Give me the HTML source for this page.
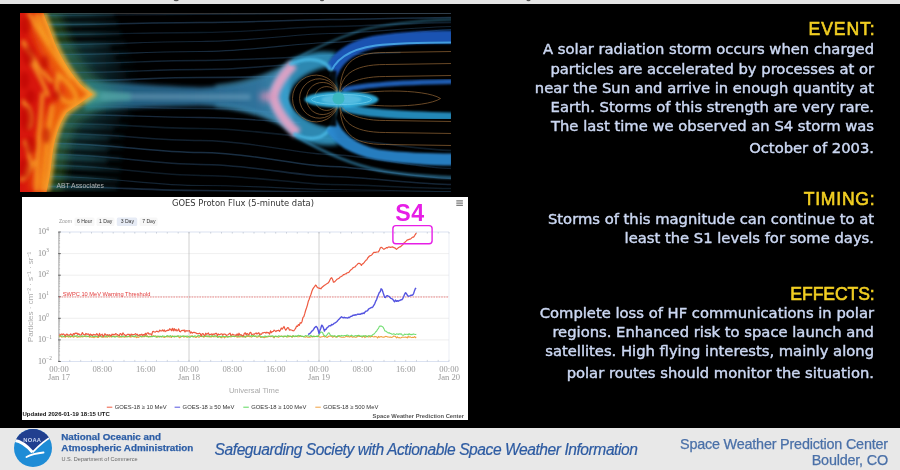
<!DOCTYPE html>
<html><head><meta charset="utf-8">
<style>
html,body{margin:0;padding:0;}
body{width:900px;height:470px;background:#000;position:relative;overflow:hidden;font-family:"Liberation Sans",sans-serif;}
.abs{position:absolute;}
#topstrip{left:0;top:0;width:900px;height:3.5px;background:#e5e5e5;}
#mag{left:19.5px;top:12.5px;width:431px;height:179px;}
#graph{left:22px;top:197px;width:446px;height:223px;}
.t{position:absolute;right:26px;white-space:nowrap;font-family:"DejaVu Sans",sans-serif;font-size:14.75px;color:#cbd7f2;line-height:1;-webkit-text-stroke:0.45px #cbd7f2;}
.h{position:absolute;right:25.3px;white-space:nowrap;font-family:"Liberation Sans",sans-serif;font-size:17.6px;color:#f2cf22;line-height:1;-webkit-text-stroke:0.6px #f2cf22;}
#footer{left:0;top:428px;width:900px;height:42px;background:#e8e8e8;}
.f{position:absolute;white-space:nowrap;line-height:1;}
</style></head><body>
<div id="topstrip" class="abs"></div>
<svg class="abs" style="left:0;top:0" width="900" height="4"><g fill="#555"><ellipse cx="176.2" cy="0.2" rx="2.4" ry="1.1"/><ellipse cx="322" cy="0.2" rx="2" ry="1"/><ellipse cx="528.5" cy="0.2" rx="2" ry="1"/></g></svg>
<svg id="mag" class="abs" viewBox="19.5 12.5 431 179">
<defs>
<filter id="b05" x="-20%" y="-20%" width="140%" height="140%"><feGaussianBlur stdDeviation="0.6"/></filter>
<filter id="b1" x="-20%" y="-20%" width="140%" height="140%"><feGaussianBlur stdDeviation="1"/></filter>
<filter id="b2" x="-30%" y="-30%" width="160%" height="160%"><feGaussianBlur stdDeviation="2"/></filter>
<filter id="b3" x="-30%" y="-30%" width="160%" height="160%"><feGaussianBlur stdDeviation="3"/></filter>
<filter id="b5" x="-50%" y="-50%" width="200%" height="200%"><feGaussianBlur stdDeviation="5"/></filter>
<filter id="b8" x="-50%" y="-50%" width="200%" height="200%"><feGaussianBlur stdDeviation="8"/></filter>
<linearGradient id="sung" x1="19.5" x2="92" y1="0" y2="0" gradientUnits="userSpaceOnUse">
<stop offset="0" stop-color="#dc1a0a"/><stop offset="0.3" stop-color="#e83a0c"/><stop offset="0.55" stop-color="#f06810"/><stop offset="0.8" stop-color="#f49020"/><stop offset="1" stop-color="#f0a838"/></linearGradient>
<linearGradient id="haze" x1="40" x2="140" y1="0" y2="0" gradientUnits="userSpaceOnUse">
<stop offset="0" stop-color="#3a5010" stop-opacity="0.9"/><stop offset="0.35" stop-color="#1a3418" stop-opacity="0.6"/><stop offset="0.7" stop-color="#0a1a20" stop-opacity="0.3"/><stop offset="1" stop-color="#000" stop-opacity="0"/></linearGradient>
<linearGradient id="band" x1="80" x2="290" y1="0" y2="0" gradientUnits="userSpaceOnUse">
<stop offset="0" stop-color="#2f8a88"/><stop offset="0.25" stop-color="#2c7098"/><stop offset="0.5" stop-color="#2e74a0"/><stop offset="0.85" stop-color="#3a88b8"/><stop offset="1" stop-color="#50a8d0"/></linearGradient>
<clipPath id="sunclip"><path d="M19.5 12.5 L43 12.5 C46 22 50 30 54 42 C60 56 68 70 80 84 L92 94 C84 100 74 106 66 112 C58 124 53 140 51 160 C50 172 48 182 46 191.5 L19.5 191.5 Z"/></clipPath>
<linearGradient id="gfade" x1="45" x2="140" y1="0" y2="0" gradientUnits="userSpaceOnUse"><stop offset="0" stop-color="#3a9ca4" stop-opacity="0.75"/><stop offset="0.45" stop-color="#3090a0" stop-opacity="0.55"/><stop offset="1" stop-color="#2a7090" stop-opacity="0"/></linearGradient>
</defs>
<rect x="19.5" y="12.5" width="431" height="179" fill="#000"/>
<line x1="19.5" x2="450.5" y1="13" y2="13" stroke="#333" stroke-width="1"/>
<path d="M43 12.5 C46 22 50 30 54 42 C60 56 68 70 80 84 L92 94 C84 100 74 106 66 112 C58 124 53 140 51 160 C50 172 48 182 46 191.5" stroke="#2a4a14" stroke-width="30" fill="none" opacity="0.8" filter="url(#b5)"/>
<g fill="none" filter="url(#b05)"><path d="M43.9 15 C103.9 15 150 14 200 14 S 300 13 330 13 S 420 13 452 13" stroke="#30587e" stroke-opacity="0.32" stroke-width="1.24"/><path d="M47.3 24 C107.3 24 150 22 200 22 S 300 19 330 19 S 420 17 452 17" stroke="#30587e" stroke-opacity="0.50" stroke-width="1.45"/><path d="M51.1 34 C111.1 34 150 32 200 32 S 300 26 330 26 S 420 22 452 22" stroke="#30587e" stroke-opacity="0.32" stroke-width="1.36"/><path d="M55.0 44 C115.0 44 150 41 200 41 S 300 33 330 33 S 420 26 452 26" stroke="#30587e" stroke-opacity="0.42" stroke-width="1.20"/><path d="M59.6 54 C119.6 54 150 51 200 51 S 300 42 330 42 S 420 29 452 29" stroke="#30587e" stroke-opacity="0.48" stroke-width="1.17"/><path d="M64.8 63 C124.8 63 150 60 200 60 S 370 52 400 52" stroke="#30587e" stroke-opacity="0.40" stroke-width="1.41"/><path d="M70.3 72 C130.3 72 150 69 200 69 S 270 64 300 64" stroke="#30587e" stroke-opacity="0.41" stroke-width="1.45"/><path d="M76.3 80 C136.3 80 150 77 200 77 S 255 76 285 76" stroke="#30587e" stroke-opacity="0.48" stroke-width="1.67"/><path d="M72.8 106 C132.8 106 150 108 200 108 S 255 112 285 112" stroke="#30587e" stroke-opacity="0.37" stroke-width="1.49"/><path d="M64.0 114 C124.0 114 150 117 200 117 S 270 122 300 122" stroke="#30587e" stroke-opacity="0.47" stroke-width="1.28"/><path d="M58.4 123 C118.4 123 150 128 200 128 S 300 138 330 138 S 420 150 452 150" stroke="#30587e" stroke-opacity="0.30" stroke-width="1.68"/><path d="M53.7 133 C113.7 133 150 140 200 140 S 300 154 330 154 S 420 168 452 168" stroke="#30587e" stroke-opacity="0.37" stroke-width="1.29"/><path d="M52.7 143 C112.7 143 150 152 200 152 S 300 166 330 166 S 420 178 452 178" stroke="#30587e" stroke-opacity="0.52" stroke-width="1.45"/><path d="M51.6 154 C111.6 154 150 164 200 164 S 300 176 330 176 S 420 184 452 184" stroke="#30587e" stroke-opacity="0.42" stroke-width="1.56"/><path d="M50.5 165 C110.5 165 150 175 200 175 S 300 184 330 184 S 420 188 452 188" stroke="#30587e" stroke-opacity="0.31" stroke-width="1.52"/><path d="M48.9 176 C108.9 176 150 185 200 185 S 300 189 330 189 S 420 191 452 191" stroke="#30587e" stroke-opacity="0.39" stroke-width="1.15"/><path d="M47.0 186 C107.0 186 150 190 200 190 S 300 192 330 192 S 420 192 452 192" stroke="#30587e" stroke-opacity="0.47" stroke-width="1.66"/></g>
<g fill="none" filter="url(#b2)"><path d="M41.9 15 L113.9 14.6" stroke="url(#gfade)" stroke-width="3"/><path d="M45.3 24 L117.3 23.1" stroke="url(#gfade)" stroke-width="3"/><path d="M49.1 34 L121.1 33.1" stroke="url(#gfade)" stroke-width="3"/><path d="M53.0 44 L125.0 42.6" stroke="url(#gfade)" stroke-width="3"/><path d="M53.0 48 L110.0 47.1" stroke="url(#gfade)" stroke-width="2.5"/><path d="M57.6 54 L129.6 52.6" stroke="url(#gfade)" stroke-width="3"/><path d="M57.6 58 L114.6 57.1" stroke="url(#gfade)" stroke-width="2.5"/><path d="M62.8 63 L134.8 61.6" stroke="url(#gfade)" stroke-width="3"/><path d="M62.8 67 L119.8 66.1" stroke="url(#gfade)" stroke-width="2.5"/><path d="M68.3 72 L140.3 70.7" stroke="url(#gfade)" stroke-width="3"/><path d="M68.3 76 L125.3 75.1" stroke="url(#gfade)" stroke-width="2.5"/><path d="M74.3 80 L146.3 78.7" stroke="url(#gfade)" stroke-width="3"/><path d="M74.3 84 L131.3 83.1" stroke="url(#gfade)" stroke-width="2.5"/><path d="M70.8 106 L142.8 106.9" stroke="url(#gfade)" stroke-width="3"/><path d="M70.8 110 L127.8 110.6" stroke="url(#gfade)" stroke-width="2.5"/><path d="M62.0 114 L134.0 115.3" stroke="url(#gfade)" stroke-width="3"/><path d="M62.0 118 L119.0 118.9" stroke="url(#gfade)" stroke-width="2.5"/><path d="M56.4 123 L128.4 125.2" stroke="url(#gfade)" stroke-width="3"/><path d="M56.4 127 L113.4 128.5" stroke="url(#gfade)" stroke-width="2.5"/><path d="M51.7 133 L123.7 136.2" stroke="url(#gfade)" stroke-width="3"/><path d="M51.7 137 L108.7 139.1" stroke="url(#gfade)" stroke-width="2.5"/><path d="M50.7 143 L122.7 147.1" stroke="url(#gfade)" stroke-width="3"/><path d="M50.7 147 L107.7 149.7" stroke="url(#gfade)" stroke-width="2.5"/><path d="M49.6 154 L121.6 158.5" stroke="url(#gfade)" stroke-width="3"/><path d="M49.6 158 L106.6 161.0" stroke="url(#gfade)" stroke-width="2.5"/><path d="M48.5 165 L120.5 169.5" stroke="url(#gfade)" stroke-width="3"/><path d="M46.9 176 L118.9 180.1" stroke="url(#gfade)" stroke-width="3"/><path d="M45.0 186 L117.0 187.8" stroke="url(#gfade)" stroke-width="3"/></g>
<path d="M84 80 C120 82 150 85 200 87 C225 86 245 82 262 76 C272 72 280 68 288 64 L292 130 C282 124 272 120 262 116 C245 110 225 106 200 105 C150 106 120 108 84 110 Z" fill="url(#band)" opacity="0.85" filter="url(#b2)"/>
<path d="M100 93 C150 93 200 94 250 94 L250 99 C200 99 150 99 100 99 Z" fill="#8ab8d0" opacity="0.45" filter="url(#b2)"/>
<path d="M84 88 C100 90 115 92 130 93 L130 100 C115 100 100 102 84 104 Z" fill="#4aa8a0" opacity="0.6" filter="url(#b2)"/>
<path d="M19.5 12.5 L43 12.5 C46 22 50 30 54 42 C60 56 68 70 80 84 L92 94 C84 100 74 106 66 112 C58 124 53 140 51 160 C50 172 48 182 46 191.5 L19.5 191.5 Z" fill="#d8180a" filter="url(#b05)"/>
<path d="M43 12.5 C46 22 50 30 54 42 C60 56 68 70 80 84 L92 94 C84 100 74 106 66 112 C58 124 53 140 51 160 C50 172 48 182 46 191.5" stroke="#f06a10" stroke-width="34" fill="none" opacity="0.85" filter="url(#b5)" clip-path="url(#sunclip)"/>
<g fill="none" stroke="#f8a428" stroke-width="4" opacity="0.85" filter="url(#b2)" clip-path="url(#sunclip)"><path d="M28 12.5 C38 30 52 52 72 78"/><path d="M22 40 C30 55 40 70 52 82"/><path d="M42 92 C40 120 37 150 36 191.5"/><path d="M52 104 C48 130 44 160 42 191.5"/><path d="M58 74 C68 82 76 90 76 100 C66 106 58 98 56 86 Z"/><path d="M22 100 C30 108 32 118 28 128"/><path d="M24 140 C30 150 30 162 26 172"/><path d="M36 12.5 C40 24 44 34 50 44"/><path d="M30 60 C36 70 44 84 48 96"/><path d="M20 180 C26 176 30 170 34 160"/></g>
<g filter="url(#b2)" clip-path="url(#sunclip)"><ellipse cx="25" cy="25" rx="5" ry="9" fill="#b80806" opacity="0.55"/><ellipse cx="28" cy="55" rx="6" ry="10" fill="#b80806" opacity="0.55"/><ellipse cx="24" cy="80" rx="5" ry="9" fill="#b80806" opacity="0.55"/><ellipse cx="30" cy="96" rx="5" ry="7" fill="#b80806" opacity="0.55"/><ellipse cx="26" cy="118" rx="6" ry="12" fill="#b80806" opacity="0.55"/><ellipse cx="30" cy="145" rx="5" ry="9" fill="#b80806" opacity="0.55"/><ellipse cx="24" cy="168" rx="6" ry="10" fill="#b80806" opacity="0.55"/><ellipse cx="44" cy="62" rx="4" ry="7" fill="#b80806" opacity="0.55"/><ellipse cx="46" cy="135" rx="4" ry="8" fill="#b80806" opacity="0.55"/><ellipse cx="56" cy="95" rx="4" ry="5" fill="#b80806" opacity="0.55"/></g>
<path d="M43 12.5 C46 22 50 30 54 42 C60 56 68 70 80 84 L92 94 C84 100 74 106 66 112 C58 124 53 140 51 160 C50 172 48 182 46 191.5" stroke="#f8b030" stroke-width="6" fill="none" opacity="0.85" filter="url(#b2)"/>
<path d="M290 60 C280 72 270 86 268 96 C270 108 280 122 294 136 C310 144 324 146 338 144 L334 128 C314 126 294 114 288 98 C290 82 306 70 330 66 L336 52 C320 50 304 52 290 60 Z" fill="#36a0d0" opacity="0.85" filter="url(#b2)"/>
<path d="M215 86 C245 83 265 76 280 68 C286 64 290 62 296 60" stroke="#50b0d8" stroke-width="3" fill="none" opacity="0.55" filter="url(#b2)"/>
<path d="M215 105 C245 108 265 114 280 122 C288 128 294 132 300 136" stroke="#50b0d8" stroke-width="3" fill="none" opacity="0.55" filter="url(#b2)"/>
<path d="M293 64 C283 74 275 86 273 96 C275 108 284 121 297 133" stroke="#eaa2c4" stroke-width="10" fill="none" opacity="0.9" filter="url(#b2)"/>
<path d="M266 90 C270 92 272 94 274 96 C272 98 270 100 266 102 C262 100 260 98 258 96 C260 94 262 92 266 90 Z" fill="#d890b8" opacity="0.8" filter="url(#b3)"/>
<path d="M326 66 C332 52 348 40 375 35 C400 31 430 30 452 30 L452 43 C430 43 400 43 378 47 C352 52 340 64 335 80 Z" fill="#1d58bc" opacity="0.95" filter="url(#b1)"/>
<path d="M329 76 C333 60 348 49 375 45 C400 42 430 42 452 42" stroke="#48a8e8" stroke-width="1.8" fill="none" opacity="0.9" filter="url(#b05)"/>
<path d="M289 64 C302 58 318 56 328 66 C332 72 334 80 336 92" stroke="#48b8e4" stroke-width="3.5" fill="none" opacity="0.85" filter="url(#b1)"/>
<path d="M293 133 C306 140 320 140 328 130 C332 124 334 116 336 104" stroke="#48b8e4" stroke-width="3.5" fill="none" opacity="0.85" filter="url(#b1)"/>
<path d="M292 60 C310 50 330 40 360 30 C390 22 420 20 452 19" stroke="#3a90b8" stroke-width="2" fill="none" opacity="0.6" filter="url(#b1)"/>
<path d="M296 136 C320 150 350 164 380 170 C400 174 430 176 452 177" stroke="#3a98c8" stroke-width="3" fill="none" opacity="0.6" filter="url(#b1)"/>
<path d="M326 130 C334 144 350 154 375 159 C400 163 430 165 452 165 L452 153 C430 153 400 152 378 149 C356 144 342 134 335 118 Z" fill="#2a88d0" opacity="0.92" filter="url(#b1)"/>
<path d="M342 90 C360 84 400 82 452 81" stroke="#2466c4" stroke-width="5" fill="none" opacity="0.9" filter="url(#b1)"/>
<path d="M342 106 C360 113 400 115 452 116" stroke="#2aa0d8" stroke-width="8" fill="none" opacity="0.85" filter="url(#b1)"/>
<path d="M336 70 C310 70 290 84 289 98 C290 112 310 126 336 126 Z" fill="#000" opacity="0.92" filter="url(#b1)"/>
<g fill="none" stroke="#b07a40" stroke-width="0.85" opacity="0.7"><path d="M337 89 A23.4 23.4 0 1 0 337 107"/><path d="M337 90.5 A19.7 19.7 0 1 0 337 105.5"/><path d="M337 92 A16.1 16.1 0 1 0 337 104"/><path d="M337 93.5 A11.9 11.9 0 1 0 337 102.5"/><path d="M339 95 C340 64 350 52 385 52 L452 51"/><path d="M339 101 C340 132 350 144 385 144 L452 145"/><path d="M339 95 C340 76 350 64 385 64 L452 63"/><path d="M339 101 C340 120 350 132 385 132 L452 133"/><path d="M339 95 C340 88 350 76 385 76 L452 75"/><path d="M339 101 C340 108 350 120 385 120 L452 121"/><path d="M339 98 C360 88 425 88 440 98 C425 108 360 108 339 98"/></g>
<ellipse cx="341" cy="99" rx="37" ry="8" fill="#30b0e0" opacity="0.95" filter="url(#b1)"/>
<ellipse cx="341" cy="99" rx="20" ry="5" fill="#78d0ec" opacity="0.5" filter="url(#b1)"/>
<ellipse cx="341" cy="99" rx="30" ry="5" fill="none" stroke="#80d8f0" stroke-width="1" opacity="0.6" filter="url(#b05)"/>
<circle cx="338" cy="98" r="6" fill="#3ab8c0" filter="url(#b05)"/>
<text x="56" y="187.2" font-family="Liberation Sans, sans-serif" font-size="6.8" fill="#b0b0b0">ABT Associates</text>
</svg>
<svg id="graph" class="abs" viewBox="22 197 446 223">
<rect x="22" y="197" width="446" height="223" fill="#fff"/>
<text x="243" y="205.6" text-anchor="middle" font-family="DejaVu Sans, sans-serif" font-size="8.4" fill="#333">GOES Proton Flux (5-minute data)</text>
<line x1="456.3" x2="462.9" y1="200.9" y2="200.9" stroke="#666" stroke-width="1.1"/>
<line x1="456.3" x2="462.9" y1="203.1" y2="203.1" stroke="#666" stroke-width="1.1"/>
<line x1="456.3" x2="462.9" y1="205.3" y2="205.3" stroke="#666" stroke-width="1.1"/>
<g font-family="Liberation Sans, sans-serif" font-size="5.1">
<rect x="74.5" y="217.4" width="20" height="8.6" rx="1.5" fill="#f7f7f7"/>
<rect x="96.5" y="217.4" width="18" height="8.6" rx="1.5" fill="#f7f7f7"/>
<rect x="116.8" y="217.4" width="20.4" height="8.6" rx="1.5" fill="#e6ebf5"/>
<rect x="139.6" y="217.4" width="18" height="8.6" rx="1.5" fill="#f7f7f7"/>
<text x="58.9" y="223.1" fill="#999">Zoom</text>
<text x="76.9" y="223.1" fill="#333">6 Hour</text>
<text x="99" y="223.1" fill="#333">1 Day</text>
<text x="120.7" y="223.1" fill="#333">3 Day</text>
<text x="142.2" y="223.1" fill="#333">7 Day</text>
</g>
<line x1="59" x2="449" y1="339.9" y2="339.9" stroke="#ebebeb" stroke-width="0.8"/>
<line x1="59" x2="449" y1="318.3" y2="318.3" stroke="#ebebeb" stroke-width="0.8"/>
<line x1="59" x2="449" y1="296.7" y2="296.7" stroke="#ebebeb" stroke-width="0.8"/>
<line x1="59" x2="449" y1="275.2" y2="275.2" stroke="#ebebeb" stroke-width="0.8"/>
<line x1="59" x2="449" y1="253.6" y2="253.6" stroke="#ebebeb" stroke-width="0.8"/>
<line x1="59" x2="449" y1="232" y2="232" stroke="#ccd6eb" stroke-width="0.7"/>
<line x1="59" x2="449" y1="361.5" y2="361.5" stroke="#ccd6eb" stroke-width="0.7"/>
<path d="M59.0 232v1.6M59.0 361.5v-1.6M69.8 232v1.6M69.8 361.5v-1.6M80.7 232v1.6M80.7 361.5v-1.6M91.5 232v1.6M91.5 361.5v-1.6M102.3 232v1.6M102.3 361.5v-1.6M113.2 232v1.6M113.2 361.5v-1.6M124.0 232v1.6M124.0 361.5v-1.6M134.8 232v1.6M134.8 361.5v-1.6M145.7 232v1.6M145.7 361.5v-1.6M156.5 232v1.6M156.5 361.5v-1.6M167.3 232v1.6M167.3 361.5v-1.6M178.2 232v1.6M178.2 361.5v-1.6M189.0 232v1.6M189.0 361.5v-1.6M199.8 232v1.6M199.8 361.5v-1.6M210.7 232v1.6M210.7 361.5v-1.6M221.5 232v1.6M221.5 361.5v-1.6M232.3 232v1.6M232.3 361.5v-1.6M243.2 232v1.6M243.2 361.5v-1.6M254.0 232v1.6M254.0 361.5v-1.6M264.8 232v1.6M264.8 361.5v-1.6M275.7 232v1.6M275.7 361.5v-1.6M286.5 232v1.6M286.5 361.5v-1.6M297.3 232v1.6M297.3 361.5v-1.6M308.2 232v1.6M308.2 361.5v-1.6M319.0 232v1.6M319.0 361.5v-1.6M329.8 232v1.6M329.8 361.5v-1.6M340.7 232v1.6M340.7 361.5v-1.6M351.5 232v1.6M351.5 361.5v-1.6M362.3 232v1.6M362.3 361.5v-1.6M373.2 232v1.6M373.2 361.5v-1.6M384.0 232v1.6M384.0 361.5v-1.6M394.8 232v1.6M394.8 361.5v-1.6M405.7 232v1.6M405.7 361.5v-1.6M416.5 232v1.6M416.5 361.5v-1.6M427.3 232v1.6M427.3 361.5v-1.6M438.2 232v1.6M438.2 361.5v-1.6M449.0 232v1.6M449.0 361.5v-1.6" stroke="#b0b8c8" stroke-width="0.6"/>
<line x1="189" x2="189" y1="232" y2="361.5" stroke="#a8a8a8" stroke-width="0.55"/>
<line x1="319" x2="319" y1="232" y2="361.5" stroke="#a8a8a8" stroke-width="0.55"/>
<line x1="449" x2="449" y1="232" y2="361.5" stroke="#dde3ef" stroke-width="0.6"/>
<line x1="58.9" x2="58.9" y1="232" y2="361.5" stroke="#8a8a8a" stroke-width="0.8"/>
<path d="M58.9 355.0h1.2M58.9 351.2h1.2M58.9 348.5h1.2M58.9 346.4h1.2M58.9 344.7h1.2M58.9 343.2h1.2M58.9 342.0h1.2M58.9 340.9h1.2M58.9 333.4h1.2M58.9 329.6h1.2M58.9 326.9h1.2M58.9 324.8h1.2M58.9 323.1h1.2M58.9 321.7h1.2M58.9 320.4h1.2M58.9 319.3h1.2M58.9 311.8h1.2M58.9 308.0h1.2M58.9 305.3h1.2M58.9 303.2h1.2M58.9 301.5h1.2M58.9 300.1h1.2M58.9 298.8h1.2M58.9 297.7h1.2M58.9 290.2h1.2M58.9 286.4h1.2M58.9 283.7h1.2M58.9 281.7h1.2M58.9 279.9h1.2M58.9 278.5h1.2M58.9 277.3h1.2M58.9 276.1h1.2M58.9 268.7h1.2M58.9 264.9h1.2M58.9 262.2h1.2M58.9 260.1h1.2M58.9 258.4h1.2M58.9 256.9h1.2M58.9 255.7h1.2M58.9 254.6h1.2M58.9 247.1h1.2M58.9 243.3h1.2M58.9 240.6h1.2M58.9 238.5h1.2M58.9 236.8h1.2M58.9 235.3h1.2M58.9 234.1h1.2M58.9 233.0h1.2" stroke="#999" stroke-width="0.5"/>
<line x1="58.2" x2="60.8" y1="361.5" y2="361.5" stroke="#555" stroke-width="0.9"/>
<line x1="58.2" x2="60.8" y1="339.9" y2="339.9" stroke="#555" stroke-width="0.9"/>
<line x1="58.2" x2="60.8" y1="318.3" y2="318.3" stroke="#555" stroke-width="0.9"/>
<line x1="58.2" x2="60.8" y1="296.7" y2="296.7" stroke="#555" stroke-width="0.9"/>
<line x1="58.2" x2="60.8" y1="275.2" y2="275.2" stroke="#555" stroke-width="0.9"/>
<line x1="58.2" x2="60.8" y1="253.6" y2="253.6" stroke="#555" stroke-width="0.9"/>
<line x1="58.2" x2="60.8" y1="232.0" y2="232.0" stroke="#555" stroke-width="0.9"/>
<g font-family="Liberation Serif, serif" fill="#888">
<text x="46.1" y="363.7" font-size="8" text-anchor="end">10</text><text x="46.3" y="360.1" font-size="5.2">−2</text>
<text x="46.1" y="342.1" font-size="8" text-anchor="end">10</text><text x="46.3" y="338.5" font-size="5.2">−1</text>
<text x="46.1" y="320.5" font-size="8" text-anchor="end">10</text><text x="46.3" y="316.9" font-size="5.2">0</text>
<text x="46.1" y="298.9" font-size="8" text-anchor="end">10</text><text x="46.3" y="295.3" font-size="5.2">1</text>
<text x="46.1" y="277.4" font-size="8" text-anchor="end">10</text><text x="46.3" y="273.8" font-size="5.2">2</text>
<text x="46.1" y="255.8" font-size="8" text-anchor="end">10</text><text x="46.3" y="252.2" font-size="5.2">3</text>
<text x="46.1" y="234.2" font-size="8" text-anchor="end">10</text><text x="46.3" y="230.6" font-size="5.2">4</text>
</g>
<text transform="translate(32.8 297) rotate(-90)" text-anchor="middle" font-family="Liberation Sans, sans-serif" font-size="8" fill="#aaa">Particles · cm⁻² · s⁻¹ · sr⁻¹</text>
<g font-family="Liberation Serif, serif" font-size="8.6" fill="#999" text-anchor="middle">
<text x="59.0" y="372.4">00:00</text>
<text x="102.3" y="372.4">08:00</text>
<text x="145.7" y="372.4">16:00</text>
<text x="189.0" y="372.4">00:00</text>
<text x="232.3" y="372.4">08:00</text>
<text x="275.7" y="372.4">16:00</text>
<text x="319.0" y="372.4">00:00</text>
<text x="362.3" y="372.4">08:00</text>
<text x="405.7" y="372.4">16:00</text>
<text x="449.0" y="372.4">00:00</text>
<text x="59" y="380.4">Jan 17</text>
<text x="189" y="380.4">Jan 18</text>
<text x="319" y="380.4">Jan 19</text>
<text x="449" y="380.4">Jan 20</text>
</g>
<text x="254" y="392.6" text-anchor="middle" font-family="Liberation Sans, sans-serif" font-size="7.6" fill="#aaa">Universal Time</text>
<line x1="59" x2="449" y1="297" y2="297" stroke="#e85a5a" stroke-width="0.7" stroke-dasharray="1.6 1"/>
<text x="62.8" y="295.6" font-family="Liberation Sans, sans-serif" font-size="5.7" fill="#e23a3a">SWPC 10 MeV Warning Threshold</text>
<g fill="none" stroke-width="1" stroke-linejoin="round">
<path d="M59.0 336.9 L59.9 336.5 L60.8 335.7 L61.7 337.1 L62.6 337.0 L63.5 336.8 L64.4 336.7 L65.3 337.2 L66.2 336.5 L67.1 336.4 L68.0 336.6 L68.9 337.2 L69.8 336.1 L70.7 337.2 L71.6 336.4 L72.5 336.2 L73.4 337.3 L74.3 336.7 L75.2 336.1 L76.1 336.5 L77.0 337.1 L77.9 337.2 L78.8 336.5 L79.7 336.9 L80.6 337.0 L81.5 336.4 L82.4 336.9 L83.3 336.7 L84.2 336.5 L85.1 336.5 L86.0 336.7 L86.9 336.7 L87.8 336.4 L88.7 336.5 L89.6 337.2 L90.5 336.8 L91.4 337.1 L92.3 337.2 L93.2 337.0 L94.1 337.7 L95.0 336.3 L95.9 337.1 L96.8 336.6 L97.7 337.5 L98.6 337.5 L99.5 335.8 L100.4 336.3 L101.3 337.0 L102.2 337.1 L103.1 337.0 L104.0 336.7 L104.9 336.9 L105.8 337.0 L106.7 336.7 L107.6 337.2 L108.5 335.7 L109.4 337.0 L110.3 336.2 L111.2 337.1 L112.1 336.6 L113.0 336.3 L113.9 336.9 L114.8 336.3 L115.7 336.3 L116.6 336.0 L117.5 336.7 L118.4 336.9 L119.3 337.2 L120.2 336.6 L121.1 337.2 L122.0 336.7 L122.9 336.7 L123.8 337.0 L124.7 337.2 L125.6 336.5 L126.5 336.6 L127.4 336.6 L128.3 336.7 L129.2 336.3 L130.1 337.2 L131.0 336.5 L131.9 336.9 L132.8 336.3 L133.7 336.9 L134.6 336.9 L135.5 336.5 L136.4 337.6 L137.3 336.9 L138.2 337.5 L139.1 337.1 L140.0 336.4 L140.9 336.5 L141.8 336.9 L142.7 336.7 L143.6 336.7 L144.5 336.6 L145.4 335.9 L146.3 336.6 L147.2 335.7 L148.1 336.9 L149.0 336.4 L149.9 336.4 L150.8 336.6 L151.7 336.8 L152.6 336.1 L153.5 335.9 L154.4 336.2 L155.3 335.8 L156.2 336.3 L157.1 337.4 L158.0 336.2 L158.9 337.0 L159.8 336.1 L160.7 336.8 L161.6 336.6 L162.5 336.7 L163.4 337.0 L164.3 337.5 L165.2 336.8 L166.1 336.8 L167.0 336.3 L167.9 337.0 L168.8 336.6 L169.7 337.1 L170.6 336.7 L171.5 337.5 L172.4 335.8 L173.3 336.6 L174.2 337.1 L175.1 336.5 L176.0 336.3 L176.9 336.6 L177.8 336.1 L178.7 336.8 L179.6 337.8 L180.5 337.2 L181.4 336.2 L182.3 336.3 L183.2 336.5 L184.1 337.2 L185.0 336.3 L185.9 336.4 L186.8 337.1 L187.7 337.1 L188.6 336.5 L189.5 336.2 L190.4 336.0 L191.3 336.4 L192.2 335.7 L193.1 337.0 L194.0 336.4 L194.9 336.9 L195.8 337.5 L196.7 337.2 L197.6 336.2 L198.5 337.1 L199.4 337.2 L200.3 336.4 L201.2 336.3 L202.1 336.7 L203.0 336.0 L203.9 337.4 L204.8 335.6 L205.7 336.2 L206.6 336.6 L207.5 336.6 L208.4 336.8 L209.3 336.8 L210.2 336.6 L211.1 337.2 L212.0 335.7 L212.9 336.7 L213.8 336.4 L214.7 336.8 L215.6 336.8 L216.5 336.3 L217.4 336.4 L218.3 337.1 L219.2 336.9 L220.1 336.4 L221.0 337.6 L221.9 337.7 L222.8 336.0 L223.7 336.8 L224.6 337.8 L225.5 337.1 L226.4 336.8 L227.3 336.6 L228.2 336.5 L229.1 336.6 L230.0 336.5 L230.9 337.0 L231.8 336.5 L232.7 336.5 L233.6 336.2 L234.5 336.7 L235.4 336.3 L236.3 336.6 L237.2 337.2 L238.1 336.9 L239.0 336.9 L239.9 336.9 L240.8 336.7 L241.7 336.6 L242.6 336.6 L243.5 337.0 L244.4 336.2 L245.3 337.3 L246.2 336.7 L247.1 336.4 L248.0 336.5 L248.9 336.4 L249.8 336.8 L250.7 336.4 L251.6 337.2 L252.5 336.3 L253.4 335.7 L254.3 336.4 L255.2 335.8 L256.1 336.7 L257.0 337.2 L257.9 337.0 L258.8 336.1 L259.7 336.4 L260.6 337.5 L261.5 336.8 L262.4 336.7 L263.3 337.2 L264.2 337.8 L265.1 337.3 L266.0 336.8 L266.9 336.9 L267.8 337.0 L268.7 336.4 L269.6 336.2 L270.5 336.7 L271.4 336.3 L272.3 336.7 L273.2 336.7 L274.1 337.8 L275.0 336.3 L275.9 336.6 L276.8 336.6 L277.7 336.9 L278.6 337.2 L279.5 336.5 L280.4 336.3 L281.3 336.0 L282.2 336.3 L283.1 336.9 L284.0 336.7 L284.9 336.2 L285.8 336.5 L286.7 336.7 L287.6 336.9 L288.5 336.4 L289.4 336.6 L290.3 335.9 L291.2 336.2 L292.1 337.4 L293.0 335.7 L293.9 336.5 L294.8 336.8 L295.7 336.5 L296.6 336.3 L297.5 336.7 L298.4 336.7 L299.3 336.7 L300.2 335.9 L301.1 336.6 L302.0 336.3 L302.9 336.5 L303.8 336.8 L304.7 337.0 L305.6 337.1 L306.5 336.5 L307.4 337.1 L308.3 337.2 L309.2 337.2 L310.1 337.3 L311.0 336.6 L311.9 336.6 L312.8 337.1 L313.7 336.1 L314.6 336.8 L315.5 336.5 L316.4 336.5 L317.3 335.9 L318.2 336.3 L319.1 336.7 L320.0 337.1 L320.9 337.1 L321.8 336.7 L322.7 336.6 L323.6 336.3 L324.5 336.9 L325.4 336.6 L326.3 337.0 L327.2 337.5 L328.1 336.7 L329.0 336.0 L329.9 336.3 L330.8 336.0 L331.7 336.2 L332.6 337.3 L333.5 336.8 L334.4 336.0 L335.3 337.0 L336.2 337.3 L337.1 336.5 L338.0 336.4 L338.9 336.5 L339.8 336.8 L340.7 337.0 L341.6 337.2 L342.5 337.2 L343.4 337.2 L344.3 337.3 L345.2 337.0 L346.1 336.0 L347.0 336.6 L347.9 336.8 L348.8 336.5 L349.7 337.1 L350.6 336.5 L351.5 336.3 L352.4 337.3 L353.3 337.0 L354.2 336.8 L355.1 337.1 L356.0 337.2 L356.9 336.9 L357.8 335.6 L358.7 336.4 L359.6 336.5 L360.5 336.3 L361.4 336.8 L362.3 337.2 L363.2 336.5 L364.1 336.2 L365.0 337.6 L365.9 336.5 L366.8 336.1 L367.7 336.8 L368.6 336.9 L369.5 336.4 L370.4 337.1 L371.3 336.5 L372.2 336.3 L373.1 336.8 L374.0 337.0 L374.9 336.4 L375.8 336.8 L376.7 336.7 L377.6 338.0 L378.5 336.4 L379.4 337.3 L380.3 336.7 L381.2 336.6 L382.1 337.0 L383.0 337.1 L383.9 337.3 L384.8 336.8 L385.7 336.4 L386.6 336.5 L387.5 336.9 L388.4 337.0 L389.3 337.3 L390.2 336.9 L391.1 337.2 L392.0 337.4 L392.9 336.8 L393.8 336.0 L394.7 336.2 L395.6 336.6 L396.5 337.9 L397.4 336.8 L398.3 337.8 L399.2 337.5 L400.1 338.0 L401.0 337.7 L401.9 337.2 L402.8 337.1 L403.7 337.2 L404.6 337.3 L405.5 337.0 L406.4 337.2 L407.3 337.9 L408.2 336.4 L409.1 337.3 L410.0 336.8 L410.9 337.3 L411.8 337.6 L412.7 337.2 L413.6 337.5 L414.5 336.5 L415.4 337.7 L416.3 336.9" stroke="#f0a040" stroke-width="1.1"/>
<path d="M59.0 336.3 L59.9 336.0 L60.8 336.0 L61.7 336.3 L62.6 335.8 L63.5 336.6 L64.4 336.3 L65.3 336.4 L66.2 336.2 L67.1 336.0 L68.0 335.9 L68.9 336.2 L69.8 336.0 L70.7 336.4 L71.6 336.3 L72.5 335.7 L73.4 336.3 L74.3 335.7 L75.2 336.0 L76.1 336.2 L77.0 335.4 L77.9 336.3 L78.8 336.4 L79.7 336.2 L80.6 336.1 L81.5 336.1 L82.4 335.9 L83.3 336.2 L84.2 336.0 L85.1 336.3 L86.0 335.7 L86.9 336.4 L87.8 336.4 L88.7 336.2 L89.6 336.1 L90.5 336.5 L91.4 335.5 L92.3 336.5 L93.2 336.4 L94.1 336.4 L95.0 336.5 L95.9 336.0 L96.8 336.2 L97.7 336.6 L98.6 336.5 L99.5 336.4 L100.4 335.6 L101.3 336.5 L102.2 336.8 L103.1 336.7 L104.0 336.4 L104.9 335.6 L105.8 336.7 L106.7 336.2 L107.6 335.1 L108.5 336.5 L109.4 335.6 L110.3 335.7 L111.2 336.0 L112.1 336.9 L113.0 336.1 L113.9 336.4 L114.8 337.1 L115.7 337.0 L116.6 336.2 L117.5 336.2 L118.4 335.7 L119.3 336.0 L120.2 336.5 L121.1 336.5 L122.0 336.3 L122.9 336.7 L123.8 335.9 L124.7 336.2 L125.6 336.6 L126.5 336.5 L127.4 336.8 L128.3 336.5 L129.2 336.1 L130.1 336.4 L131.0 335.8 L131.9 335.5 L132.8 336.5 L133.7 336.2 L134.6 336.4 L135.5 335.5 L136.4 336.1 L137.3 336.0 L138.2 335.9 L139.1 335.3 L140.0 336.1 L140.9 336.7 L141.8 336.4 L142.7 336.0 L143.6 336.3 L144.5 336.6 L145.4 335.0 L146.3 336.2 L147.2 336.5 L148.1 336.6 L149.0 337.0 L149.9 336.8 L150.8 336.4 L151.7 336.4 L152.6 336.6 L153.5 336.0 L154.4 336.2 L155.3 336.7 L156.2 337.1 L157.1 336.2 L158.0 336.2 L158.9 336.4 L159.8 336.9 L160.7 336.2 L161.6 336.9 L162.5 335.8 L163.4 336.2 L164.3 336.2 L165.2 336.6 L166.1 336.7 L167.0 335.6 L167.9 335.8 L168.8 336.4 L169.7 336.0 L170.6 335.6 L171.5 336.7 L172.4 336.5 L173.3 336.5 L174.2 336.0 L175.1 336.7 L176.0 336.1 L176.9 336.7 L177.8 335.8 L178.7 335.9 L179.6 336.3 L180.5 335.9 L181.4 336.6 L182.3 336.4 L183.2 335.8 L184.1 336.3 L185.0 336.1 L185.9 336.7 L186.8 336.0 L187.7 336.1 L188.6 336.8 L189.5 337.3 L190.4 337.1 L191.3 336.3 L192.2 336.3 L193.1 336.9 L194.0 336.2 L194.9 335.8 L195.8 336.3 L196.7 336.5 L197.6 335.9 L198.5 335.5 L199.4 335.6 L200.3 336.5 L201.2 335.9 L202.1 336.2 L203.0 336.3 L203.9 336.5 L204.8 336.1 L205.7 336.5 L206.6 335.8 L207.5 336.1 L208.4 335.8 L209.3 336.8 L210.2 336.2 L211.1 335.9 L212.0 336.1 L212.9 336.1 L213.8 336.6 L214.7 335.5 L215.6 335.8 L216.5 336.1 L217.4 337.4 L218.3 336.7 L219.2 336.2 L220.1 336.6 L221.0 337.2 L221.9 336.1 L222.8 336.1 L223.7 336.8 L224.6 336.5 L225.5 336.5 L226.4 336.0 L227.3 337.1 L228.2 337.0 L229.1 336.5 L230.0 336.5 L230.9 335.3 L231.8 336.5 L232.7 336.1 L233.6 336.4 L234.5 336.5 L235.4 336.1 L236.3 335.5 L237.2 336.4 L238.1 335.9 L239.0 336.1 L239.9 336.0 L240.8 336.1 L241.7 335.2 L242.6 336.8 L243.5 336.3 L244.4 336.7 L245.3 337.1 L246.2 336.2 L247.1 335.4 L248.0 335.8 L248.9 335.7 L249.8 336.0 L250.7 336.3 L251.6 335.3 L252.5 336.4 L253.4 335.5 L254.3 336.4 L255.2 336.2 L256.1 336.1 L257.0 336.2 L257.9 336.0 L258.8 335.9 L259.7 335.5 L260.6 336.2 L261.5 337.1 L262.4 337.1 L263.3 336.8 L264.2 336.5 L265.1 335.9 L266.0 336.9 L266.9 336.2 L267.8 336.2 L268.7 336.1 L269.6 336.3 L270.5 336.0 L271.4 336.2 L272.3 335.7 L273.2 336.0 L274.1 337.2 L275.0 336.2 L275.9 336.1 L276.8 336.5 L277.7 336.5 L278.6 335.7 L279.5 336.1 L280.4 336.6 L281.3 336.3 L282.2 336.3 L283.1 336.9 L284.0 335.9 L284.9 336.3 L285.8 336.0 L286.7 336.9 L287.6 335.3 L288.5 335.9 L289.4 336.0 L290.3 336.5 L291.2 336.5 L292.1 336.8 L293.0 335.5 L293.9 336.5 L294.8 336.1 L295.7 335.9 L296.6 336.5 L297.5 335.8 L298.4 335.3 L299.3 336.0 L300.2 335.5 L301.1 335.9 L302.0 336.4 L302.9 336.3 L303.8 336.9 L304.7 336.1 L305.6 335.5 L306.5 335.9 L307.4 335.8 L308.3 335.7 L309.2 336.4 L310.1 335.9 L311.0 335.3 L311.9 336.5 L312.8 336.2 L313.7 336.4 L314.6 336.2 L315.5 336.5 L316.4 336.2 L317.3 336.8 L318.2 336.1 L319.1 334.6 L320.0 333.2 L320.9 332.0 L321.8 332.1 L322.7 332.8 L323.6 335.2 L324.5 335.3 L325.4 336.5 L326.3 335.7 L327.2 334.7 L328.1 333.3 L329.0 332.8 L329.9 334.3 L330.8 335.4 L331.7 336.0 L332.6 335.7 L333.5 336.2 L334.4 335.7 L335.3 336.0 L336.2 336.4 L337.1 337.1 L338.0 335.5 L338.9 335.8 L339.8 335.6 L340.7 336.3 L341.6 335.4 L342.5 335.7 L343.4 335.9 L344.3 335.5 L345.2 335.5 L346.1 335.7 L347.0 335.0 L347.9 335.3 L348.8 335.7 L349.7 336.0 L350.6 335.8 L351.5 335.1 L352.4 335.7 L353.3 336.2 L354.2 336.1 L355.1 335.8 L356.0 335.5 L356.9 336.2 L357.8 335.6 L358.7 335.3 L359.6 335.5 L360.5 336.5 L361.4 335.9 L362.3 336.4 L363.2 335.6 L364.1 336.3 L365.0 335.6 L365.9 335.8 L366.8 336.9 L367.7 336.2 L368.6 335.6 L369.5 335.8 L370.4 335.9 L371.3 336.1 L372.2 335.2 L373.1 334.5 L374.0 334.1 L374.9 333.0 L375.8 331.7 L376.7 331.0 L377.6 329.3 L378.5 328.4 L379.4 326.3 L380.3 326.0 L381.2 326.1 L382.1 326.4 L383.0 327.1 L383.9 328.6 L384.8 330.9 L385.7 331.0 L386.6 331.8 L387.5 332.4 L388.4 332.9 L389.3 332.8 L390.2 333.5 L391.1 333.6 L392.0 334.2 L392.9 334.1 L393.8 333.7 L394.7 334.2 L395.6 334.6 L396.5 333.8 L397.4 334.1 L398.3 334.5 L399.2 333.7 L400.1 334.3 L401.0 333.7 L401.9 334.7 L402.8 335.2 L403.7 335.1 L404.6 334.1 L405.5 334.5 L406.4 334.3 L407.3 334.2 L408.2 334.9 L409.1 333.6 L410.0 334.7 L410.9 334.2 L411.8 334.8 L412.7 334.3 L413.6 333.9 L414.5 334.3 L415.4 334.5 L416.3 334.2" stroke="#5ad85a" stroke-width="1.1" stroke-opacity="0.85"/>
<path d="M59.0 334.8 L59.9 335.1 L60.8 334.6 L61.7 334.0 L62.6 334.4 L63.5 333.9 L64.4 334.9 L65.3 336.0 L66.2 334.4 L67.1 334.2 L68.0 335.2 L68.9 335.1 L69.8 334.9 L70.7 334.0 L71.6 334.8 L72.5 335.4 L73.4 333.6 L74.3 334.4 L75.2 333.1 L76.1 333.6 L77.0 333.1 L77.9 334.6 L78.8 333.7 L79.7 335.0 L80.6 334.9 L81.5 334.6 L82.4 332.5 L83.3 334.3 L84.2 334.8 L85.1 334.9 L86.0 333.4 L86.9 334.4 L87.8 333.9 L88.7 334.1 L89.6 335.8 L90.5 334.1 L91.4 334.8 L92.3 335.6 L93.2 334.3 L94.1 334.7 L95.0 334.9 L95.9 334.9 L96.8 333.7 L97.7 334.9 L98.6 336.0 L99.5 333.4 L100.4 335.6 L101.3 334.9 L102.2 334.2 L103.1 336.6 L104.0 335.5 L104.9 333.7 L105.8 334.8 L106.7 335.3 L107.6 334.6 L108.5 335.4 L109.4 334.7 L110.3 335.3 L111.2 336.0 L112.1 334.1 L113.0 334.9 L113.9 334.3 L114.8 334.8 L115.7 333.6 L116.6 334.2 L117.5 334.5 L118.4 335.5 L119.3 335.7 L120.2 333.5 L121.1 334.0 L122.0 335.3 L122.9 332.9 L123.8 334.2 L124.7 334.6 L125.6 335.8 L126.5 335.3 L127.4 334.3 L128.3 334.3 L129.2 334.4 L130.1 336.0 L131.0 334.2 L131.9 334.3 L132.8 334.9 L133.7 334.5 L134.6 334.4 L135.5 333.6 L136.4 334.6 L137.3 334.2 L138.2 335.6 L139.1 335.2 L140.0 334.5 L140.9 335.2 L141.8 334.2 L142.7 335.5 L143.6 334.5 L144.5 335.1 L145.4 333.4 L146.3 334.8 L147.2 333.0 L148.1 332.7 L149.0 334.2 L149.9 333.7 L150.8 334.0 L151.7 335.1 L152.6 331.6 L153.5 331.4 L154.4 332.0 L155.3 332.1 L156.2 331.4 L157.1 331.2 L158.0 331.9 L158.9 331.6 L159.8 330.1 L160.7 330.9 L161.6 331.0 L162.5 329.9 L163.4 331.1 L164.3 330.0 L165.2 331.6 L166.1 330.9 L167.0 330.7 L167.9 330.1 L168.8 330.5 L169.7 328.7 L170.6 329.4 L171.5 330.7 L172.4 328.3 L173.3 330.9 L174.2 328.5 L175.1 330.7 L176.0 329.3 L176.9 330.9 L177.8 330.4 L178.7 328.9 L179.6 331.5 L180.5 331.8 L181.4 330.5 L182.3 330.4 L183.2 330.6 L184.1 329.9 L185.0 331.9 L185.9 330.5 L186.8 331.1 L187.7 330.7 L188.6 331.0 L189.5 330.6 L190.4 333.1 L191.3 332.0 L192.2 333.2 L193.1 332.5 L194.0 332.2 L194.9 332.7 L195.8 332.8 L196.7 333.6 L197.6 333.5 L198.5 333.8 L199.4 333.1 L200.3 333.8 L201.2 336.0 L202.1 333.9 L203.0 333.5 L203.9 334.8 L204.8 335.7 L205.7 333.2 L206.6 334.3 L207.5 333.9 L208.4 332.9 L209.3 335.1 L210.2 334.4 L211.1 334.5 L212.0 333.8 L212.9 334.8 L213.8 333.9 L214.7 334.3 L215.6 333.4 L216.5 333.3 L217.4 335.6 L218.3 334.0 L219.2 334.7 L220.1 334.4 L221.0 334.0 L221.9 333.9 L222.8 335.0 L223.7 334.1 L224.6 334.2 L225.5 334.4 L226.4 335.4 L227.3 335.0 L228.2 334.7 L229.1 333.8 L230.0 333.1 L230.9 335.2 L231.8 335.2 L232.7 334.2 L233.6 334.8 L234.5 335.0 L235.4 335.1 L236.3 335.1 L237.2 333.9 L238.1 335.7 L239.0 333.2 L239.9 335.1 L240.8 334.7 L241.7 335.1 L242.6 336.0 L243.5 335.6 L244.4 333.2 L245.3 332.8 L246.2 335.0 L247.1 333.4 L248.0 334.2 L248.9 335.0 L249.8 332.8 L250.7 332.3 L251.6 334.5 L252.5 334.3 L253.4 334.0 L254.3 334.3 L255.2 333.4 L256.1 332.9 L257.0 334.1 L257.9 333.3 L258.8 332.7 L259.7 334.7 L260.6 334.0 L261.5 334.3 L262.4 332.8 L263.3 332.9 L264.2 332.5 L265.1 332.4 L266.0 333.2 L266.9 332.1 L267.8 332.9 L268.7 332.7 L269.6 334.1 L270.5 330.8 L271.4 332.7 L272.3 331.6 L273.2 331.5 L274.1 330.1 L275.0 330.8 L275.9 331.7 L276.8 330.7 L277.7 330.7 L278.6 330.2 L279.5 331.3 L280.4 330.1 L281.3 328.0 L282.2 329.1 L283.1 327.8 L284.0 326.5 L284.9 328.8 L285.8 330.3 L286.7 328.9 L287.6 327.7 L288.5 327.8 L289.4 330.1 L290.3 329.7 L291.2 330.0 L292.1 330.3 L293.0 330.8 L293.9 330.7 L294.8 329.5 L295.7 328.2 L296.6 326.1 L297.5 326.5 L298.4 324.5 L299.3 325.4 L300.2 322.7 L301.1 323.1 L302.0 321.7 L302.9 317.7 L303.8 316.7 L304.7 313.9 L305.6 310.5 L306.5 308.0 L307.4 305.1 L308.3 301.3 L309.2 299.3 L310.1 296.6 L311.0 294.2 L311.9 291.3 L312.8 289.1 L313.7 287.6 L314.6 286.7 L315.5 285.1 L316.4 285.7 L317.3 287.5 L318.2 287.9 L319.1 288.3 L320.0 288.2 L320.9 288.8 L321.8 287.5 L322.7 286.7 L323.6 286.0 L324.5 285.3 L325.4 284.8 L326.3 284.1 L327.2 283.6 L328.1 283.0 L329.0 281.9 L329.9 280.0 L330.8 278.2 L331.7 277.7 L332.6 279.5 L333.5 282.2 L334.4 282.0 L335.3 281.1 L336.2 280.2 L337.1 279.2 L338.0 278.8 L338.9 278.4 L339.8 277.3 L340.7 276.8 L341.6 276.2 L342.5 275.8 L343.4 274.7 L344.3 274.6 L345.2 273.9 L346.1 273.9 L347.0 272.8 L347.9 272.7 L348.8 272.5 L349.7 271.1 L350.6 270.1 L351.5 269.5 L352.4 268.6 L353.3 267.5 L354.2 267.2 L355.1 267.0 L356.0 265.6 L356.9 264.9 L357.8 263.8 L358.7 263.3 L359.6 263.4 L360.5 264.0 L361.4 265.4 L362.3 264.0 L363.2 263.6 L364.1 262.7 L365.0 261.3 L365.9 260.3 L366.8 259.7 L367.7 258.0 L368.6 257.0 L369.5 256.0 L370.4 255.6 L371.3 255.3 L372.2 254.4 L373.1 253.1 L374.0 252.3 L374.9 252.3 L375.8 252.4 L376.7 252.0 L377.6 252.0 L378.5 251.8 L379.4 250.1 L380.3 247.9 L381.2 247.3 L382.1 247.8 L383.0 248.6 L383.9 249.3 L384.8 248.7 L385.7 248.3 L386.6 247.5 L387.5 247.9 L388.4 247.0 L389.3 246.9 L390.2 247.4 L391.1 247.1 L392.0 247.1 L392.9 246.9 L393.8 247.6 L394.7 247.8 L395.6 248.5 L396.5 249.3 L397.4 248.6 L398.3 247.8 L399.2 247.1 L400.1 246.9 L401.0 246.3 L401.9 245.4 L402.8 244.7 L403.7 243.1 L404.6 242.7 L405.5 241.6 L406.4 240.9 L407.3 239.8 L408.2 239.8 L409.1 239.4 L410.0 239.2 L410.9 238.7 L411.8 237.8 L412.7 237.1 L413.6 237.1 L414.5 235.8 L415.4 234.4 L416.3 233.2" stroke="#ee5a40" stroke-width="1.2"/>
<path d="M308.2 334.6 L309.1 333.9 L310.0 333.3 L310.9 332.4 L311.8 331.2 L312.7 330.7 L313.6 329.4 L314.5 327.8 L315.4 326.9 L316.3 326.4 L317.2 327.6 L318.1 329.9 L319.0 333.5 L319.9 330.6 L320.8 328.3 L321.7 325.1 L322.6 325.9 L323.5 328.1 L324.4 331.1 L325.3 329.4 L326.2 329.2 L327.1 327.6 L328.0 327.1 L328.9 325.9 L329.8 325.8 L330.7 325.8 L331.6 324.5 L332.5 324.8 L333.4 324.1 L334.3 323.2 L335.2 322.9 L336.1 322.2 L337.0 321.5 L337.9 320.4 L338.8 319.4 L339.7 318.6 L340.6 317.5 L341.5 316.8 L342.4 317.4 L343.3 317.9 L344.2 317.2 L345.1 317.9 L346.0 317.8 L346.9 317.9 L347.8 318.1 L348.7 317.3 L349.6 317.6 L350.5 316.4 L351.4 316.4 L352.3 315.8 L353.2 315.2 L354.1 315.3 L355.0 314.8 L355.9 315.0 L356.8 314.6 L357.7 314.1 L358.6 314.3 L359.5 314.2 L360.4 314.3 L361.3 313.5 L362.2 313.7 L363.1 312.9 L364.0 313.5 L364.9 312.2 L365.8 311.2 L366.7 311.1 L367.6 310.7 L368.5 309.1 L369.4 308.5 L370.3 308.1 L371.2 307.5 L372.1 307.5 L373.0 306.7 L373.9 305.2 L374.8 303.6 L375.7 301.2 L376.6 299.6 L377.5 297.0 L378.4 294.8 L379.3 292.5 L380.2 291.7 L381.1 288.8 L382.0 289.6 L382.9 292.1 L383.8 294.8 L384.7 297.4 L385.6 297.5 L386.5 295.9 L387.4 295.6 L388.3 296.2 L389.2 296.5 L390.1 297.6 L391.0 298.4 L391.9 298.7 L392.8 299.4 L393.7 300.7 L394.6 301.7 L395.5 300.1 L396.4 301.3 L397.3 300.7 L398.2 301.3 L399.1 300.4 L400.0 300.5 L400.9 299.8 L401.8 299.7 L402.7 298.7 L403.6 296.8 L404.5 294.6 L405.4 292.7 L406.3 293.4 L407.2 295.0 L408.1 296.2 L409.0 296.1 L409.9 295.9 L410.8 295.2 L411.7 295.3 L412.6 295.0 L413.5 293.8 L414.4 291.1 L415.3 288.7 L416.2 288.2" stroke="#5555e0" stroke-width="1.4"/>

</g>
<rect x="392.9" y="225.6" width="39.2" height="18.2" rx="3" fill="none" stroke="#e61ee6" stroke-width="1.4"/>
<text x="410" y="221.2" text-anchor="middle" font-family="Liberation Sans, sans-serif" font-weight="bold" font-size="23.2" fill="#e61ee6" letter-spacing="0.6">S4</text>
<g font-family="Liberation Sans, sans-serif" font-size="5.84" fill="#333">
<line x1="106.8" x2="112.3" y1="407.2" y2="407.2" stroke="#ee5a40" stroke-width="1"/><text x="114.8" y="409.3">GOES-18 ≥ 10 MeV</text>
<line x1="174.6" x2="180.1" y1="407.2" y2="407.2" stroke="#5555e0" stroke-width="1"/><text x="182.6" y="409.3">GOES-18 ≥ 50 MeV</text>
<line x1="243.3" x2="248.8" y1="407.2" y2="407.2" stroke="#5ad85a" stroke-width="1"/><text x="251.3" y="409.3">GOES-18 ≥ 100 MeV</text>
<line x1="315.3" x2="320.8" y1="407.2" y2="407.2" stroke="#f0a040" stroke-width="1"/><text x="323.3" y="409.3">GOES-18 ≥ 500 MeV</text>
</g>
<text x="22.5" y="415.8" font-family="Liberation Sans, sans-serif" font-weight="bold" font-size="6" fill="#111">Updated 2026-01-19 18:15 UTC</text>
<text x="464" y="417.6" text-anchor="end" font-family="Liberation Sans, sans-serif" font-weight="bold" font-size="5.8" fill="#555">Space Weather Prediction Center</text>
</svg>
<div class="h" style="top:20.8px;letter-spacing:0.9px;margin-right:-0.9px">EVENT:</div>
<div class="h" style="top:190.7px;letter-spacing:0.75px;margin-right:-0.75px">TIMING:</div>
<div class="h" style="top:285.9px;letter-spacing:-0.1px;margin-right:0.1px">EFFECTS:</div>
<div class="t" style="top:42.4px">A solar radiation storm occurs when charged</div>
<div class="t" style="top:61.8px">particles are accelerated by processes at or</div>
<div class="t" style="top:80.6px">near the Sun and arrive in enough quantity at</div>
<div class="t" style="top:99.9px">Earth. Storms of this strength are very rare.</div>
<div class="t" style="top:118.5px">The last time we observed an S4 storm was</div>
<div class="t" style="top:141.1px">October of 2003.</div>
<div class="t" style="top:212.3px">Storms of this magnitude can continue to at</div>
<div class="t" style="top:230.7px">least the S1 levels for some days.</div>
<div class="t" style="top:306.3px">Complete loss of HF communications in polar</div>
<div class="t" style="top:324.7px">regions. Enhanced risk to space launch and</div>
<div class="t" style="top:343.5px">satellites. High flying interests, mainly along</div>
<div class="t" style="top:366.3px">polar routes should monitor the situation.</div>
<div id="footer" class="abs">
<svg class="abs" style="left:13px;top:0.5px" width="41" height="41" viewBox="13 428.5 41 41">
<defs><clipPath id="lc"><circle cx="33" cy="447.5" r="19"/></clipPath></defs>
<circle cx="33" cy="447.5" r="19" fill="#1e8cd6"/>
<g clip-path="url(#lc)">
<path d="M10 420 L56 420 L56 436 C50 437 42 442 33 451 C26 444 20 439 10 438 Z" fill="#213f8f"/>
<path d="M12 439.5 C20 440 27 445 32.5 451.8" stroke="#fff" stroke-width="3" fill="none"/><path d="M32.5 451.8 C38 446 44 440 52 436" stroke="#fff" stroke-width="1.8" fill="none"/>
<path d="M26.5 456.5 C31 454 37 452.6 43.5 452" stroke="#fff" stroke-width="1.9" fill="none" stroke-linecap="round"/>
</g>
<text x="32.3" y="441" text-anchor="middle" font-family="Liberation Sans, sans-serif" font-weight="bold" font-size="5.8" fill="#c8d4f0" letter-spacing="0.2">NOAA</text>
</svg>
<div class="f" style="left:61.3px;top:2.9px;font:bold 9.8px 'Liberation Sans',sans-serif;color:#2d5ea6;-webkit-text-stroke:0.25px #2d5ea6">National Oceanic and</div>
<div class="f" style="left:61.3px;top:14.2px;font:bold 9.85px 'Liberation Sans',sans-serif;color:#2d5ea6;-webkit-text-stroke:0.25px #2d5ea6">Atmospheric Administration</div>
<div class="f" style="left:61.5px;top:28.3px;font:5.55px 'Liberation Sans',sans-serif;color:#666">U.S. Department of Commerce</div>
<div class="f" style="left:214.6px;top:12.9px;font:italic 15.6px 'Liberation Sans',sans-serif;letter-spacing:-0.45px;color:#2d5ba2;-webkit-text-stroke:0.2px #2d5ba2">Safeguarding Society with Actionable Space Weather Information</div>
<div class="f" style="right:12.1px;top:7.8px;font:14.4px 'Liberation Sans',sans-serif;letter-spacing:-0.2px;color:#4a70a8;-webkit-text-stroke:0.25px #4a70a8">Space Weather Prediction Center</div>
<div class="f" style="right:12.1px;top:24.0px;font:14.4px 'Liberation Sans',sans-serif;letter-spacing:-0.2px;color:#4a70a8;-webkit-text-stroke:0.25px #4a70a8">Boulder, CO</div>

</div>
</body></html>
